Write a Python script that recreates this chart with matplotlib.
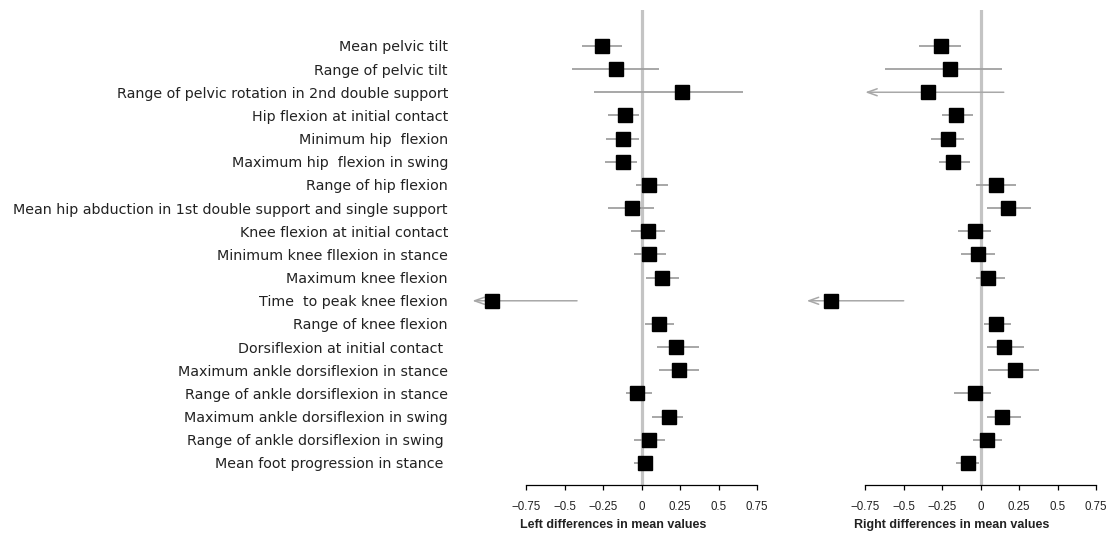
import matplotlib.pyplot as plt

labels = [
    "Mean pelvic tilt",
    "Range of pelvic tilt",
    "Range of pelvic rotation in 2nd double support",
    "Hip flexion at initial contact",
    "Minimum hip  flexion",
    "Maximum hip  flexion in swing",
    "Range of hip flexion",
    "Mean hip abduction in 1st double support and single support",
    "Knee flexion at initial contact",
    "Minimum knee fllexion in stance",
    "Maximum knee flexion",
    "Time  to peak knee flexion",
    "Range of knee flexion",
    "Dorsiflexion at initial contact ",
    "Maximum ankle dorsiflexion in stance",
    "Range of ankle dorsiflexion in stance",
    "Maximum ankle dorsiflexion in swing",
    "Range of ankle dorsiflexion in swing ",
    "Mean foot progression in stance ",
]

left_mean = [-0.26, -0.17, 0.26, -0.11, -0.12, -0.12, 0.05, -0.06, 0.04,
             0.05, 0.13, -0.97, 0.11, 0.22, 0.24, -0.03, 0.18, 0.05, 0.02]
left_lo = [-0.39, -0.45, -0.31, -0.22, -0.23, -0.24, -0.04, -0.22, -0.07,
           -0.05, 0.03, -1.10, 0.02, 0.10, 0.11, -0.10, 0.07, -0.05, -0.05]
left_hi = [-0.13, 0.11, 0.66, -0.02, -0.02, -0.03, 0.17, 0.08, 0.15,
           0.16, 0.24, -0.42, 0.21, 0.37, 0.37, 0.07, 0.27, 0.15, 0.06]
left_trunc = [11]

right_mean = [-0.26, -0.20, -0.34, -0.16, -0.21, -0.18, 0.10, 0.18, -0.04,
              -0.02, 0.05, -0.97, 0.10, 0.15, 0.22, -0.04, 0.14, 0.04, -0.08]
right_lo = [-0.40, -0.62, -0.75, -0.25, -0.32, -0.27, -0.03, 0.04, -0.15,
            -0.13, -0.03, -1.13, 0.02, 0.04, 0.05, -0.17, 0.04, -0.05, -0.16]
right_hi = [-0.13, 0.14, 0.15, -0.05, -0.11, -0.07, 0.23, 0.33, 0.07,
            0.09, 0.16, -0.50, 0.20, 0.28, 0.38, 0.07, 0.26, 0.14, -0.01]
right_trunc = [2, 11]

ticks = [-0.75, -0.5, -0.25, 0, 0.25, 0.5, 0.75]
tick_labels = ["\u22120.75", "\u22120.5", "\u22120.25", "0", "0.25", "0.5", "0.75"]

fig = plt.figure(figsize=(11.11, 5.35), dpi=100)
ax_l = fig.add_axes([0.4182, 0.0935, 0.2675, 0.8878])
ax_r = fig.add_axes([0.7233, 0.0935, 0.2675, 0.8878])


def forest(ax, mean, lo, hi, trunc, xlabel):
    n = len(mean)
    ax.axvline(0, color="#c4c4c4", lw=2.3, zorder=1)
    for i in range(n):
        if i in trunc:
            # interval runs off the scale: open arrow at the low end
            ax.annotate("", xy=(lo[i], i), xytext=(hi[i], i),
                        arrowprops=dict(arrowstyle="->,head_length=0.7,head_width=0.25",
                                        color="#a8a8a8", lw=1.1,
                                        shrinkA=0, shrinkB=0),
                        zorder=2)
        else:
            ax.plot([lo[i], hi[i]], [i, i], color="#a0a0a0", lw=1.3,
                    solid_capstyle="butt", zorder=2)
    ax.plot(mean, range(n), "s", color="black", markersize=9.5, zorder=3)

    ax.set_xlim(-1.15, 0.78)
    ax.set_ylim(18.95, -1.55)
    for s in ["top", "right", "left"]:
        ax.spines[s].set_visible(False)
    ax.spines["bottom"].set_bounds(-0.75, 0.75)
    ax.spines["bottom"].set_linewidth(0.9)
    ax.set_xticks(ticks)
    ax.set_xticklabels(tick_labels, fontsize=8.3, family="Liberation Sans",
                       color="#222222")
    ax.tick_params(axis="x", length=3.6, width=0.9, pad=8)
    ax.set_xlabel(xlabel, fontsize=9, fontweight="bold",
                  family="Liberation Sans", color="#222222", labelpad=4)


forest(ax_l, left_mean, left_lo, left_hi, left_trunc,
       "Left differences in mean values")
forest(ax_r, right_mean, right_lo, right_hi, right_trunc,
       "Right differences in mean values")

ax_l.set_yticks(range(len(labels)))
ax_l.set_yticklabels(labels, fontsize=10.3, color="#222222")
ax_l.tick_params(axis="y", length=0, pad=12)
ax_r.set_yticks([])

fig.savefig("out.png", dpi=100)
